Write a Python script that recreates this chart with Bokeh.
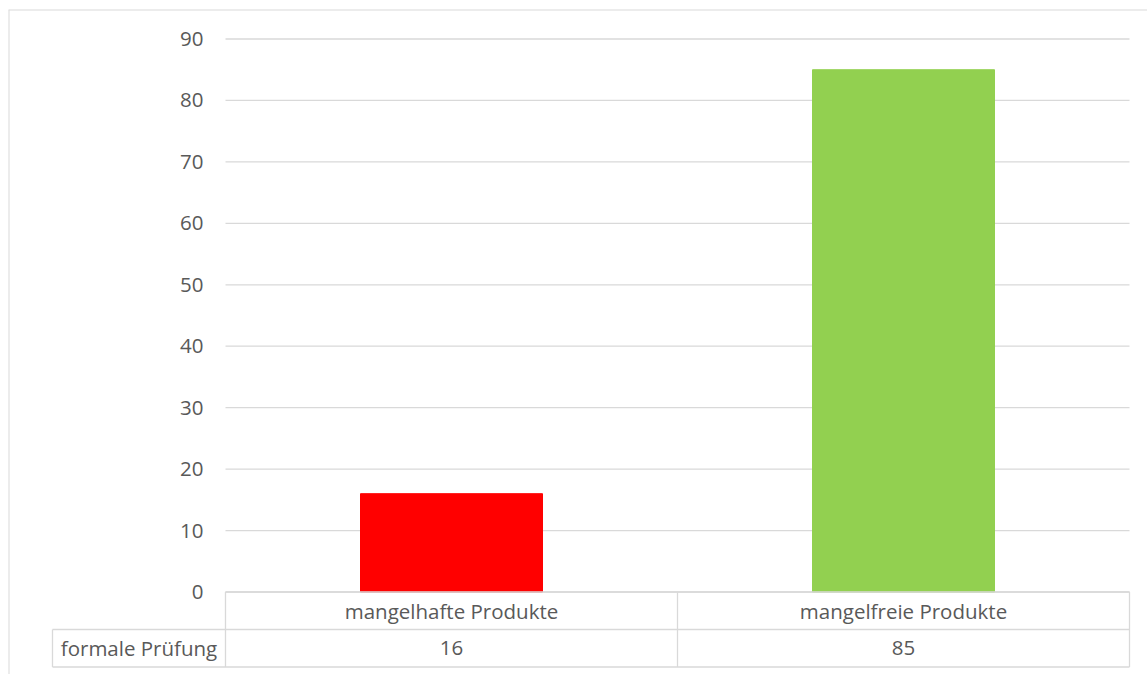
from bokeh.plotting import figure
from bokeh.models import ColumnDataSource, Span
from bokeh.core.properties import value
from bokeh.embed import file_html
from bokeh.resources import INLINE

# --- data -------------------------------------------------------------
categories = ["mangelhafte Produkte", "mangelfreie Produkte"]
series_name = "formale Prüfung"
counts = [16, 85]
bar_colors = ["#ff0000", "#92d050"]
y_ticks = [0, 10, 20, 30, 40, 50, 60, 70, 80, 90]

# --- layout (pixels) --------------------------------------------------
W, H = 1147, 674
left_pad, top_pad = 8, 9            # outer chart-area border
plot_left, plot_right = 225, 1129   # plot area / data table columns
y0_px, ytop_px = 591.5, 38.5        # pixel rows of 0 and the top tick
row_px = 37.5                       # data table row height
label_col_left = 52                 # left edge of the series-name cell
tick_gap = 22                       # tick label right edge to plot area
bar_px = 182

GRID = "#d9d9d9"
TEXT = "#595959"
FONT = value("Open Sans")
FSIZE = value("20.5px")

cat_px = (plot_right - plot_left) / len(categories)
unit_px = (y0_px - ytop_px) / y_ticks[-1]

x_start = (left_pad - plot_left) / cat_px
x_end = (W - plot_left) / cat_px
y_end = (y0_px - top_pad) / unit_px
y_start = -(H - y0_px) / unit_px

n = len(categories)
xc = [i + 0.5 for i in range(n)]
r1 = -row_px / unit_px
r2 = -2 * row_px / unit_px
xl = (label_col_left - plot_left) / cat_px

p = figure(width=W, height=H, output_backend="svg", toolbar_location=None,
           x_range=(x_start, x_end), y_range=(y_start, y_end),
           x_axis_location=None, y_axis_location=None,
           min_border_left=left_pad, min_border_top=top_pad,
           min_border_right=0, min_border_bottom=0,
           background_fill_color="white", border_fill_color="white",
           outline_line_color=None)
p.xgrid.grid_line_color = None
p.ygrid.grid_line_color = None

# outer border (left and top edges)
p.add_layout(Span(location=x_start, dimension="height", line_color=GRID, line_width=2))
p.add_layout(Span(location=y_end, dimension="width", line_color=GRID, line_width=2))

# horizontal gridlines
p.segment(x0=[0] * len(y_ticks), x1=[n] * len(y_ticks), y0=y_ticks, y1=y_ticks,
          line_color=GRID, line_width=1.3)

# bars
bars = ColumnDataSource(dict(x=xc, top=counts, color=bar_colors))
p.vbar(x="x", top="top", bottom=0, width=bar_px / cat_px, color="color", source=bars)

# data table grid
hx0 = [0, xl, xl] + list(range(n + 1)) + [xl]
hx1 = [n, n, n] + list(range(n + 1)) + [xl]
hy0 = [0, r1, r2] + [0] * (n + 1) + [r1]
hy1 = [0, r1, r2] + [r2] * (n + 1) + [r2]
p.segment(x0=hx0, x1=hx1, y0=hy0, y1=hy1, line_color=GRID, line_width=1.3)

# y tick labels
p.text(x=[-tick_gap / cat_px] * len(y_ticks), y=y_ticks, text=[str(t) for t in y_ticks],
       text_align="right", text_baseline="middle", text_color=TEXT,
       text_font=FONT, text_font_size=FSIZE)

# table texts
p.text(x=xc, y=[r1 / 2] * n, text=categories, text_align="center",
       text_baseline="middle", text_color=TEXT, text_font=FONT, text_font_size=FSIZE)
p.text(x=xc, y=[(r1 + r2) / 2] * n, text=[str(c) for c in counts], text_align="center",
       text_baseline="middle", text_color=TEXT, text_font=FONT, text_font_size=FSIZE)
p.text(x=[xl / 2], y=[(r1 + r2) / 2], text=[series_name], text_align="center",
       text_baseline="middle", text_color=TEXT, text_font=FONT, text_font_size=FSIZE)

open("out.html", "w").write(file_html(p, INLINE))
